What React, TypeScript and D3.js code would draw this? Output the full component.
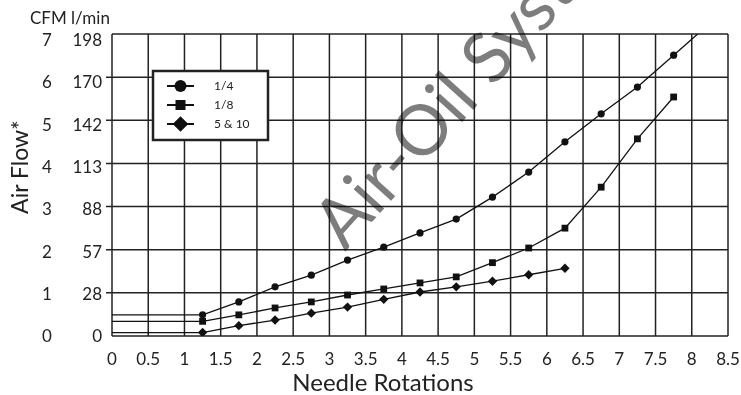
import React from "react";
import * as d3 from "d3";

const cfmTicks = [0, 1, 2, 3, 4, 5, 6, 7];
const lpmLabels = ["0", "28", "57", "88", "113", "142", "170", "198"];
const xTicks = [0, 0.5, 1, 1.5, 2, 2.5, 3, 3.5, 4, 4.5, 5, 5.5, 6, 6.5, 7, 7.5, 8, 8.5];
const xTickLabels = ["0", "0.5", "1", "1.5", "2", "2.5", "3", "3.5", "4", "4.5", "5", "5.5", "6", "6.5", "7", "7.5", "8", "8.5"];

const rotQuarter = [1.25, 1.75, 2.25, 2.75, 3.25, 3.75, 4.25, 4.75, 5.25, 5.75, 6.25, 6.75, 7.25, 7.75, 8.25];
const flowQuarter = [0.49, 0.79, 1.14, 1.41, 1.76, 2.06, 2.39, 2.71, 3.22, 3.8, 4.5, 5.15, 5.77, 6.51, 7.25];
const rotEighth = [1.25, 1.75, 2.25, 2.75, 3.25, 3.75, 4.25, 4.75, 5.25, 5.75, 6.25, 6.75, 7.25, 7.75];
const flowEighth = [0.34, 0.49, 0.65, 0.79, 0.95, 1.09, 1.23, 1.37, 1.7, 2.04, 2.5, 3.45, 4.57, 5.54];
const rotFiveTen = [1.25, 1.75, 2.25, 2.75, 3.25, 3.75, 4.25, 4.75, 5.25, 5.75, 6.25];
const flowFiveTen = [0.08, 0.24, 0.37, 0.53, 0.67, 0.85, 1.02, 1.14, 1.27, 1.42, 1.57];

const seriesNames = ["1/4", "1/8", "5 & 10"];
const seriesShapes = ["circle", "square", "diamond"];

const FONT = "Lato, 'Open Sans', sans-serif";

function Marker({ shape, cx, cy, s }: { shape: string; cx: number; cy: number; s: number }) {
  if (shape === "circle") return <circle cx={cx} cy={cy} r={s} fill="#111" />;
  if (shape === "square")
    return <rect x={cx - s} y={cy - s} width={2 * s} height={2 * s} fill="#111" />;
  const d = s * 1.3;
  return <path d={`M${cx},${cy - d}L${cx + d},${cy}L${cx},${cy + d}L${cx - d},${cy}Z`} fill="#111" />;
}

export default function App() {
  const W = 741, H = 395;
  const x = d3.scaleLinear().domain([0, 8.5]).range([112, 728]);
  const y = d3.scaleLinear().domain([0, 7]).range([336, 34]);
  const yLab = d3.scaleLinear().domain([0, 7]).range([336, 40]);

  const series = [
    { xs: rotQuarter, vs: flowQuarter, size: 3.6 },
    { xs: rotEighth, vs: flowEighth, size: 3.4 },
    { xs: rotFiveTen, vs: flowFiveTen, size: 3.6 },
  ];
  const line = d3
    .line<[number, number]>()
    .x((d) => x(d[0]))
    .y((d) => y(d[1]));

  return (
    <svg
      width={W}
      height={H}
      style={{ position: "absolute", left: 0, top: 0, background: "#fff" }}
      fontFamily={FONT}
    >
      <defs>
        <clipPath id="plot">
          <rect x={x(0)} y={y(7)} width={x(8.5) - x(0)} height={y(0) - y(7)} />
        </clipPath>
      </defs>
      <rect width={W} height={H} fill="#fff" />
      {/* grid */}
      {xTicks.map((t) => (
        <line key={"vx" + t} x1={x(t)} x2={x(t)} y1={y(0)} y2={y(7)} stroke="#222" strokeWidth={1.5} />
      ))}
      {cfmTicks.map((t) => (
        <line
          key={"hy" + t}
          x1={t >= 1 && t <= 6 ? x(0) - 6 : x(0)}
          x2={x(8.5)}
          y1={y(t)}
          y2={y(t)}
          stroke="#222"
          strokeWidth={1.5}
        />
      ))}
      {/* watermark */}
      <text
        transform={`translate(345,252) rotate(-48)`}
        fontSize={70}
        fill="#7d7d7d"
        style={{ mixBlendMode: "multiply" }}
        fontFamily={FONT}
      >
        Air-Oil Systems
      </text>
      {/* series */}
      <g clipPath="url(#plot)">
        {series.map((s, i) => {
          const pts: [number, number][] = [[0, s.vs[0]], ...s.xs.map((xv, j) => [xv, s.vs[j]] as [number, number])];
          return (
            <g key={"s" + i}>
              <path d={line(pts) || ""} fill="none" stroke="#111" strokeWidth={1.3} />
              {s.xs.map((xv, j) => (
                <Marker key={j} shape={seriesShapes[i]} cx={x(xv)} cy={y(s.vs[j])} s={s.size} />
              ))}
            </g>
          );
        })}
      </g>
      {/* legend */}
      <rect x={153} y={71} width={115} height={69} fill="#fff" stroke="#222" strokeWidth={2.5} />
      {seriesNames.map((n, i) => {
        const ly = 86 + i * 19;
        return (
          <g key={"lg" + i}>
            <line x1={167} x2={194} y1={ly} y2={ly} stroke="#111" strokeWidth={2} />
            <Marker shape={seriesShapes[i]} cx={180.5} cy={ly} s={i === 1 ? 5 : 6} />
            <text x={214} y={ly} dy="0.35em" fontSize={12} fill="#222">
              {n}
            </text>
          </g>
        );
      })}
      {/* y labels */}
      <text x={30} y={24} fontSize={17} fill="#222">
        CFM l/min
      </text>
      {cfmTicks.map((t, i) => (
        <g key={"yl" + t}>
          <text x={47} y={yLab(t)} dy="0.36em" textAnchor="middle" fontSize={17} fill="#222">
            {t}
          </text>
          <text x={102} y={yLab(t)} dy="0.36em" textAnchor="end" fontSize={17} fill="#222">
            {lpmLabels[i]}
          </text>
        </g>
      ))}
      {/* x labels */}
      {xTicks.map((t, i) => (
        <text key={"xl" + t} x={x(t)} y={365} textAnchor="middle" fontSize={17} fill="#222">
          {xTickLabels[i]}
        </text>
      ))}
      <text x={383} y={391} textAnchor="middle" fontSize={24} fill="#222">
        Needle Rotations
      </text>
      <text
        transform={`translate(28,167) rotate(-90)`}
        textAnchor="middle"
        fontSize={23}
        fill="#222"
      >
        Air Flow*
      </text>
    </svg>
  );
}
